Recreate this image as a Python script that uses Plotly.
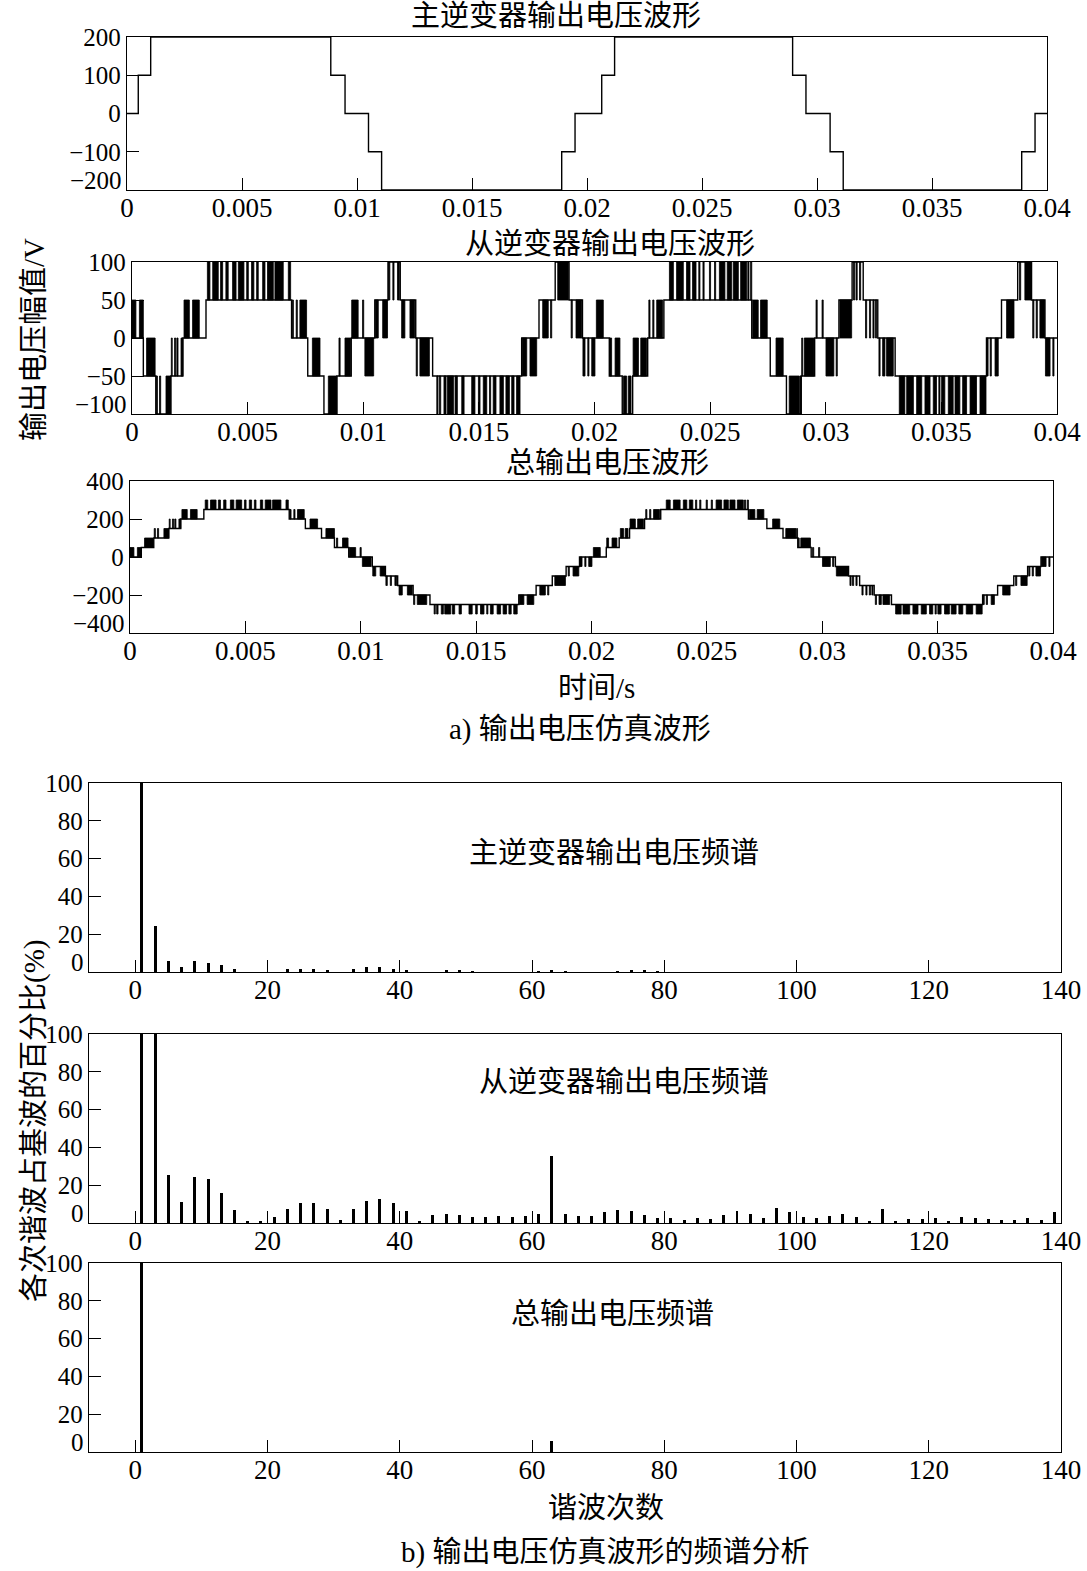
import plotly.graph_objects as go

W, H = 1087, 1571
NUM_FONT = "Liberation Serif, Times New Roman, serif"
TXT_FONT = "Liberation Serif, Noto Sans CJK SC, sans-serif"

# ---- main inverter: switching instants (ms) and level after the switch (V)
main_t = [0, 0.49, 1.03, 8.86, 9.48, 10.50, 11.07, 18.90, 19.48, 20.64, 21.20,
          28.94, 29.52, 30.57, 31.14, 38.90, 39.48, 40.0]
main_v = [0, 100, 200, 100, 0, -100, -200, -100, 0, 100, 200,
          100, 0, -100, -200, -100, 0, 0]

# ---- slave inverter / total output: switching bands (start in ms, lower level of band)
STEP = 50
band_t = [0, 0.49, 1.03, 1.68, 2.20, 3.20, 6.90, 7.60, 8.30, 8.86, 9.48, 10.05,
          10.50, 11.07, 11.60, 12.27, 13.00, 16.85, 17.60, 18.30, 18.90, 19.48,
          20.05, 20.64, 21.20, 21.65, 22.30, 23.00, 26.80, 27.60, 28.30, 28.94,
          29.52, 29.98, 30.57, 31.14, 31.62, 32.25, 33.00, 36.95, 37.60, 38.30,
          38.90, 39.48]
slave_lo = [0, -50, -100, -50, 0, 50, 0, -50, -100, -50, 0, -50,
            0, 50, 0, -50, -100, -50, 0, 50, 0, -50,
            0, -50, -100, -50, 0, 50, 0, -50, -100, -50,
            0, -50, 0, 50, 0, -50, -100, -50, 0, 50,
            0, -50]
total_lo = [0, 50, 100, 150, 200, 250, 200, 150, 100, 50, 0, -50,
            -100, -150, -200, -250, -300, -250, -200, -150, -100, -50,
            0, 50, 100, 150, 200, 250, 200, 150, 100, 50,
            0, -50, -100, -150, -200, -250, -300, -250, -200, -150,
            -100, -50]

# dense PWM bursts inside the bands (ms): drawn as solid black
burst_on = [0.00, 0.32, 0.63, 1.05, 1.19, 1.47, 1.70, 1.84, 1.94, 2.12, 2.25, 2.62,
            3.26, 3.49, 3.83, 4.06, 4.35, 4.60, 4.96, 5.17, 5.39, 5.65, 5.86, 6.18, 6.76,
            6.93, 7.10, 7.26, 7.80, 8.49, 8.95, 9.21, 9.50, 9.97, 10.07, 10.52, 10.84,
            11.09, 11.28, 11.48, 11.66, 12.02, 12.29, 12.45,
            13.18, 13.29, 13.49, 13.64, 13.97, 14.26, 14.69, 14.98, 15.19, 15.46, 15.62,
            15.91, 16.17, 16.42, 16.63, 16.87, 17.21, 17.76, 18.10, 18.41, 18.99, 19.20,
            19.50, 19.71, 19.88, 20.08, 20.66, 20.89, 21.25, 21.46, 21.67, 22.00, 22.35,
            22.52, 22.69,
            23.24, 23.55, 23.98, 24.24, 24.51, 24.69, 24.97, 25.19, 25.40, 25.74, 26.00,
            26.32, 26.63, 26.75, 26.84, 27.18, 27.85, 28.42, 28.89, 28.96, 29.07, 29.58,
            29.84, 30.01, 30.45, 30.61, 31.20, 31.31, 31.46, 31.72, 31.89, 32.04, 32.15,
            32.30, 32.46, 32.63,
            33.18, 33.50, 33.93, 34.29, 34.65, 34.89, 35.01, 35.30, 35.59, 35.92, 36.24,
            36.67, 36.97, 37.11, 37.32, 37.82, 38.38, 38.61, 38.95, 39.10, 39.26, 39.50,
            39.82]
burst_off = [0.17, 0.49, 1.00, 1.10, 1.24, 1.68, 1.74, 1.89, 1.99, 2.20, 2.48, 2.91,
             3.37, 3.73, 3.92, 4.16, 4.50, 4.84, 5.03, 5.27, 5.46, 5.75, 6.11, 6.54, 6.86,
             6.98, 7.15, 7.55, 8.13, 8.86, 9.00, 9.45, 9.78, 10.02, 10.45, 10.65, 11.05,
             11.15, 11.33, 11.56, 11.80, 12.23, 12.34, 12.86,
             13.23, 13.35, 13.58, 13.90, 14.07, 14.36, 14.83, 15.05, 15.34, 15.51, 15.74,
             16.06, 16.32, 16.52, 16.78, 17.07, 17.50, 18.00, 18.15, 18.87, 19.04, 19.45,
             19.59, 19.76, 20.02, 20.38, 20.74, 21.10, 21.39, 21.58, 21.90, 22.25, 22.40,
             22.57, 22.95,
             23.41, 23.84, 24.13, 24.39, 24.56, 24.74, 25.02, 25.24, 25.64, 25.93, 26.22,
             26.58, 26.68, 26.80, 27.08, 27.47, 28.16, 28.86, 28.93, 29.00, 29.49, 29.63,
             29.89, 30.35, 30.50, 31.12, 31.25, 31.36, 31.51, 31.77, 31.94, 32.09, 32.20,
             32.35, 32.56, 32.92,
             33.42, 33.79, 34.15, 34.51, 34.79, 34.94, 35.15, 35.51, 35.80, 36.09, 36.52,
             36.93, 37.02, 37.16, 37.46, 38.14, 38.43, 38.88, 39.00, 39.15, 39.46, 39.70,
             39.87]

# ---- harmonic spectra (% of fundamental)
main_h = [1, 3, 5, 7, 9, 11, 13, 15, 23, 25, 27, 29, 33, 35, 37, 39, 41, 47, 49, 51,
          61, 63, 65, 73, 75, 77, 79]
main_pct = [100, 24.3, 5.6, 2.5, 5.6, 4.9, 3.7, 1.4, 1.4, 1.8, 1.8, 0.9, 1.4, 2.5, 2.5,
            1.8, 0.9, 0.9, 0.9, 0.4, 0.3, 0.6, 0.3, 0.4, 0.6, 0.6, 0.3]
slave_h = [1, 3, 5, 7, 9, 11, 13, 15, 17, 19, 21, 23, 25, 27, 29, 31, 33, 35, 37, 39,
           41, 43, 45, 47, 49, 51, 53, 55, 57, 59, 61, 63, 65, 67, 69, 71, 73, 75, 77, 79,
           81, 83, 85, 87, 89, 91, 93, 95, 97, 99, 101, 103, 105, 107, 109, 111, 113, 115,
           117, 119, 121, 123, 125, 127, 129, 131, 133, 135, 137, 139]
slave_pct = [100, 100, 25.5, 11.3, 24.5, 23.4, 16, 7, 1.2, 0.7, 3, 7.6, 10.7, 10.7, 7.6,
             1.8, 7.6, 11.8, 12.9, 10.7, 6.5, 0.7, 4.4, 4.9, 4.4, 3.3, 3.3, 3.9, 3.3, 3.9,
             4.9, 35.2, 4.9, 3.9, 3.5, 6, 7, 6.5, 4.4, 2.8, 2.8, 1.8, 2.6, 2.3, 4.4, 6.5,
             4.9, 2.8, 7.9, 6, 3.3, 2.8, 3.9, 4.9, 3.3, 1.2, 7.6, 1.2, 2.3, 2, 2.8, 1.2,
             3.3, 2.8, 2.3, 1.8, 1.8, 2.8, 1.8, 6]
total_h = [1, 63]
total_pct = [100, 5.8]

time_ticks = [0, 5, 10, 15, 20, 25, 30, 35, 40]
time_labels = ["0", "0.005", "0.01", "0.015", "0.02", "0.025", "0.03", "0.035", "0.04"]
harm_ticks = [0, 20, 40, 60, 80, 100, 120, 140]
pct_ticks = [20, 40, 60, 80, 100]

# ---------------------------------------------------------------------------
band_end = band_t[1:] + [40.0]
# between bursts the output rests on the level closer to zero total voltage
slave_base = [lo if tl >= 0 else lo + STEP for lo, tl in zip(slave_lo, total_lo)]
total_base = [tl if tl >= 0 else tl + STEP for tl in total_lo]


def band_of(t):
    for i, (a, b) in enumerate(zip(band_t, band_end)):
        if a <= t < b:
            return i
    return len(band_t) - 1


def burst_shapes(lows):
    xs, ys = [], []
    for a, b in zip(burst_on, burst_off):
        lo = lows[band_of((a + b) / 2)]
        xs += [a, b, b, a, a, None]
        ys += [lo, lo, lo + STEP, lo + STEP, lo, None]
    return xs, ys


fig = go.Figure()
line = dict(color="black", width=1.4)

fig.add_trace(go.Scatter(x=main_t, y=main_v, mode="lines", line=line,
                         line_shape="hv", xaxis="x", yaxis="y"))

for lows, base, ax in [(slave_lo, slave_base, "2"), (total_lo, total_base, "3")]:
    fig.add_trace(go.Scatter(x=band_t + [40.0], y=base + [base[-1]], mode="lines",
                             line=line, line_shape="hv", xaxis="x" + ax, yaxis="y" + ax))
    bx, by = burst_shapes(lows)
    fig.add_trace(go.Scatter(x=bx, y=by, mode="lines", fill="toself",
                             fillcolor="black", line=dict(color="black", width=0.8),
                             xaxis="x" + ax, yaxis="y" + ax))

for h, p, ax in [(main_h, main_pct, "4"), (slave_h, slave_pct, "5"), (total_h, total_pct, "6")]:
    fig.add_trace(go.Bar(x=h, y=p, width=0.45, marker=dict(color="black", line_width=0),
                         xaxis="x" + ax, yaxis="y" + ax))

# pixel frames of the six panels: (left, right, top, bottom)
frames = {
    1: (127, 1047, 37, 190),
    2: (132, 1057, 262, 414),
    3: (130, 1053, 481, 633),
    4: (89, 1061, 783, 972),
    5: (89, 1061, 1034, 1223),
    6: (89, 1061, 1263, 1452),
}

axis_common = dict(showline=True, mirror=True, linecolor="black", linewidth=1.3,
                   ticks="inside", ticklen=12, tickwidth=1.2, tickcolor="black",
                   showgrid=False, zeroline=False, automargin=False,
                   tickfont=dict(family=NUM_FONT, size=25, color="black"))

y_setup = {
    1: ([-200, 200], [200, 100, 0, -100], ["200", "100", "0", "\u2212100"], "\u2212200"),
    2: ([-100, 100], [100, 50, 0, -50], ["100", "50", "0", "\u221250"], "\u2212100"),
    3: ([-400, 400], [400, 200, 0, -200], ["400", "200", "0", "\u2212200"], "\u2212400"),
    4: ([0, 100], pct_ticks, [str(v) for v in pct_ticks], "0"),
    5: ([0, 100], pct_ticks, [str(v) for v in pct_ticks], "0"),
    6: ([0, 100], pct_ticks, [str(v) for v in pct_ticks], "0"),
}

annotations = []
for k, (l, r, t, b) in frames.items():
    sx = "" if k == 1 else str(k)
    if k <= 3:
        xa = dict(range=[0, 40], tickvals=time_ticks, ticktext=time_labels)
    else:
        xa = dict(range=[-7, 140], tickvals=harm_ticks)
    xa.update(axis_common)
    xa["tickfont"] = dict(family=NUM_FONT, size=27, color="black")
    xa.update(domain=[l / W, r / W], anchor="y" + sx, ticklabelstandoff=-7)
    yr, tv, tt, bottom = y_setup[k]
    ya = dict(range=yr, tickvals=tv, ticktext=tt, domain=[1 - b / H, 1 - t / H],
              anchor="x" + sx)
    ya.update(axis_common)
    fig.layout["xaxis" + sx] = xa
    fig.layout["yaxis" + sx] = ya
    # lowest tick label sits a little above the frame corner, as in the original
    annotations.append(dict(text=bottom, xref="x" + sx + " domain", yref="y" + sx,
                            x=0, y=yr[0], xanchor="right", yanchor="middle",
                            xshift=-3, yshift=10, showarrow=False,
                            font=dict(family=NUM_FONT, size=25, color="black")))

texts = [
    ("主逆变器输出电压波形", 556, 16),
    ("从逆变器输出电压波形", 610, 244),
    ("总输出电压波形", 607, 463),
    ("时间/s", 597, 688),
    ("a) 输出电压仿真波形", 580, 730),
    ("主逆变器输出电压频谱", 614, 853),
    ("从逆变器输出电压频谱", 624, 1082),
    ("总输出电压频谱", 612, 1314),
    ("谐波次数", 606, 1508),
    ("b) 输出电压仿真波形的频谱分析", 605, 1552),
]
for s, x, y in texts:
    annotations.append(dict(text=s, xref="paper", yref="paper", x=x / W, y=1 - y / H,
                            xanchor="center", yanchor="middle", showarrow=False,
                            font=dict(family=TXT_FONT, size=29, color="black")))

for s, y in [("输出电压幅值/V", 340), ("各次谐波占基波的百分比(%)", 1121)]:
    annotations.append(dict(text=s, xref="paper", yref="paper", x=34 / W, y=1 - y / H,
                            xanchor="center", yanchor="middle", textangle=-90,
                            showarrow=False,
                            font=dict(family=TXT_FONT, size=29, color="black")))

fig.update_layout(template="none", width=W, height=H,
                  margin=dict(l=0, r=0, t=0, b=0, autoexpand=False),
                  paper_bgcolor="white", plot_bgcolor="white", showlegend=False,
                  bargap=0, annotations=annotations)

fig.write_html("out.html", post_script="document.body.style.margin='0';",
               config={"displayModeBar": False})
